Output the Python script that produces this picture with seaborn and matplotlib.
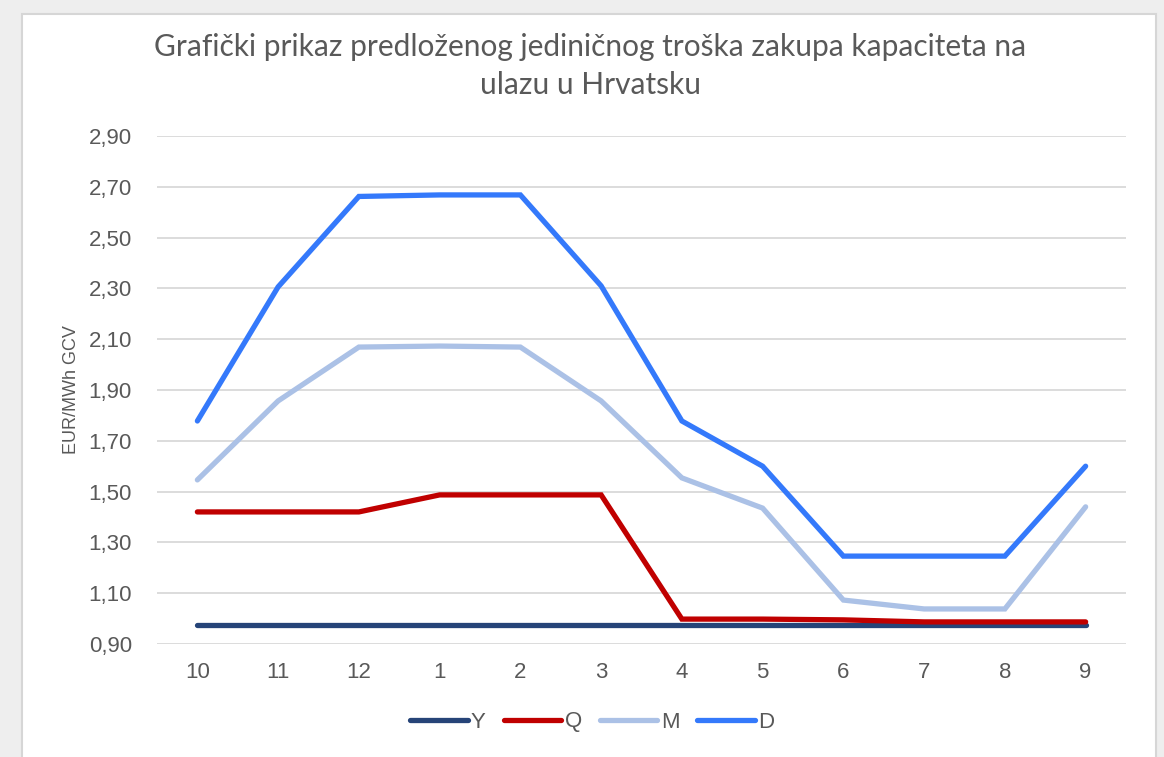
import pandas as pd
import matplotlib.pyplot as plt
import seaborn as sns
from matplotlib.patches import Rectangle
from matplotlib.ticker import FuncFormatter

months = ['10', '11', '12', '1', '2', '3', '4', '5', '6', '7', '8', '9']
y_vals = [0.975] * 12
q_vals = [1.42, 1.42, 1.42, 1.487, 1.487, 1.487, 0.998, 0.998, 0.995, 0.987, 0.987, 0.987]
m_vals = [1.546, 1.857, 2.069, 2.073, 2.069, 1.857, 1.554, 1.435, 1.073, 1.038, 1.038, 1.44]
d_vals = [1.778, 2.306, 2.662, 2.668, 2.668, 2.31, 1.778, 1.60, 1.246, 1.246, 1.246, 1.60]

series = {'Y': y_vals, 'Q': q_vals, 'M': m_vals, 'D': d_vals}
colors = {'Y': '#264478', 'Q': '#C00000', 'M': '#ABC1E6', 'D': '#3479FB'}

rows = []
for name, vals in series.items():
    for i, v in enumerate(vals):
        rows.append({'pos': i, 'value': v, 'series': name})
df = pd.DataFrame(rows)

sns.set_style('white')
plt.rcParams['font.family'] = ['Liberation Sans', 'DejaVu Sans']

fig = plt.figure(figsize=(11.64, 7.57), dpi=100)
fig.patch.set_facecolor('white')
# outer chart frame
fig.patches.append(Rectangle((0, 0), 1, 1, transform=fig.transFigure,
                             facecolor='#EEEEEE', edgecolor='none', zorder=-3))
fig.patches.append(Rectangle((22 / 1164, -0.01), (1156 - 22) / 1164, (751) / 757,
                             transform=fig.transFigure, facecolor='white',
                             edgecolor='#D6D6D6', lw=1.5, zorder=-2))

ax = fig.add_axes([157 / 1164, 1 - 644 / 757, (1126 - 157) / 1164, (644 - 136) / 757])
ax.set_facecolor('none')

sns.lineplot(data=df, x='pos', y='value', hue='series', palette=colors,
             linewidth=3.8, ax=ax, sort=False, estimator=None)
for ln in ax.lines:
    ln.set_solid_capstyle('round')
    ln.set_solid_joinstyle('miter')

ax.set_xlim(-0.5, 11.5)
ax.set_ylim(0.9, 2.9)
ax.set_yticks([0.9 + 0.2 * i for i in range(11)])
ax.yaxis.set_major_formatter(FuncFormatter(lambda v, p: f'{v:.2f}'.replace('.', ',')))
ax.set_xticks(range(12))
ax.set_xticklabels(months)
ax.grid(axis='y', color='#D9D9D9', linewidth=1.3)
ax.grid(axis='x', visible=False)
for s in ax.spines.values():
    s.set_visible(False)
ax.tick_params(axis='both', length=0, labelsize=16, colors='#595959')
ax.tick_params(axis='y', pad=18)
ax.tick_params(axis='x', pad=13)
ax.set_xlabel('')
ax.set_ylabel('EUR/MWh GCV', fontsize=13, color='#595959', labelpad=6)

title_font = dict(ha='center', va='center', fontsize=21.5, color='#595959',
                  family=['Lato', 'DejaVu Sans'])
fig.text(0.507, 1 - 47 / 757, 'Grafički prikaz predloženog jediničnog troška zakupa kapaciteta na',
         **title_font)
fig.text(0.507, 1 - 85 / 757, 'ulazu u Hrvatsku', **title_font)

handles, labels = ax.get_legend_handles_labels()
for h in handles:
    h.set_solid_capstyle('round')
ax.legend(handles, labels, loc='center', bbox_to_anchor=(0.449, (722 - 644) / -508),
          ncol=4, frameon=False, fontsize=16, labelcolor='#595959',
          handlelength=2.6, handletextpad=0.15, columnspacing=0.8)

fig.savefig('out.png', dpi=100)
